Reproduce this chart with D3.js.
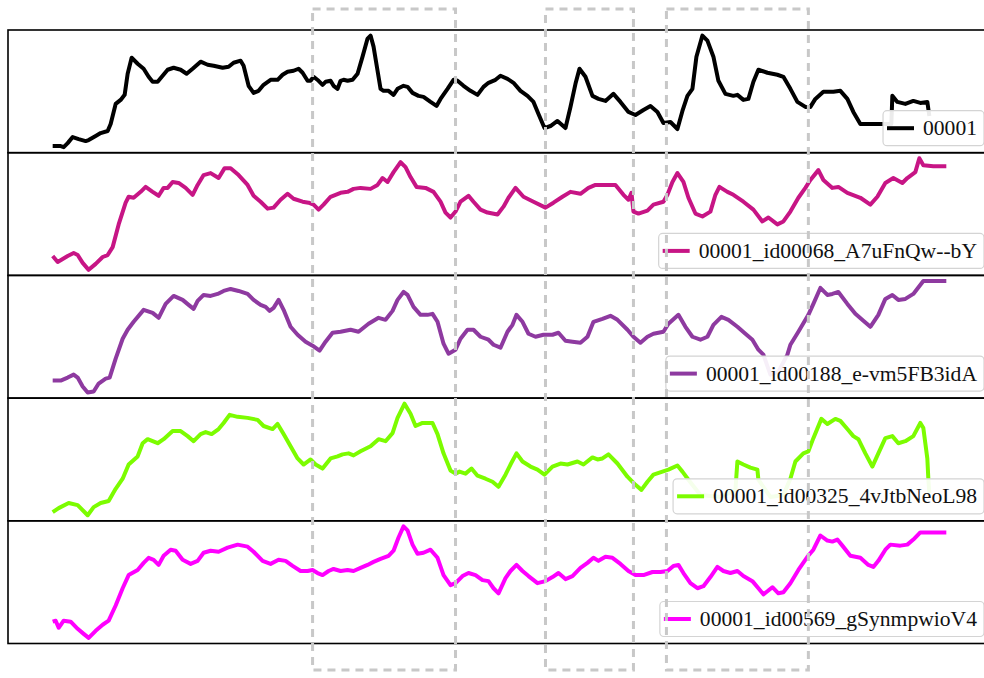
<!DOCTYPE html>
<html>
<head>
<meta charset="utf-8">
<script src="https://cdn.jsdelivr.net/npm/d3@7"></script>
<style>
  body { margin: 0; background: #fff; }
</style>
</head>
<body>
<script>
// pitch-like contours, [frame, value] pairs
var src00001 = [[0,6],[8,6],[11,5],[15,9],[20,15],[26,13],[33,11],[36,12],[43,16],[48,19],[55,21],[58,28],[63,48],[68,52],[72,57],[75,78],[79,94],[85,88],[91,83],[96,75],[100,70],[105,70],[110,76],[115,82],[121,84],[128,82],[134,78],[140,83],[148,90],[155,87],[161,86],[170,84],[176,85],[181,89],[188,91],[191,86],[196,66],[201,59],[206,61],[211,67],[218,72],[225,72],[230,77],[235,80],[241,81],[246,83],[250,79],[255,71],[258,71],[261,75],[266,71],[270,67],[273,70],[278,71],[281,66],[285,63],[288,71],[291,72],[295,71],[300,72],[305,78],[310,95],[315,113],[318,116],[321,105],[325,81],[328,63],[331,61],[336,61],[341,57],[345,63],[351,66],[355,65],[360,59],[366,56],[371,55],[378,50],[384,46],[388,53],[395,63],[401,72],[405,71],[411,66],[418,61],[425,57],[431,65],[436,69],[443,72],[448,76],[455,73],[461,69],[468,61],[475,56],[481,50],[486,38],[492,24],[498,26],[505,31],[513,24],[518,45],[523,68],[527,83],[533,75],[540,56],[546,53],[553,51],[561,58],[568,50],[576,40],[583,37],[591,42],[598,46],[605,40],[611,29],[618,30],[625,23],[630,41],[635,56],[640,63],[644,95],[650,116],[655,111],[661,95],[666,71],[673,58],[681,56],[685,57],[691,52],[696,53],[701,70],[706,82],[715,79],[725,77],[731,75],[738,63],[745,50],[753,45],[758,45],[763,53],[771,60],[781,60],[788,61],[795,53],[801,40],[808,28],[818,28],[839,28],[840,56],[845,50],[853,48],[861,51],[868,49],[875,50],[876,43],[877,36]];

var id00068 = [[0,18],[5,12],[10,15],[15,18],[21,21],[25,19],[30,11],[36,4],[43,10],[50,17],[55,19],[60,27],[66,50],[73,72],[76,78],[81,77],[88,83],[93,88],[100,83],[106,79],[111,87],[115,87],[120,93],[126,92],[133,87],[140,80],[145,90],[151,100],[158,102],[166,97],[172,107],[178,107],[186,100],[195,90],[201,79],[208,73],[215,66],[221,67],[228,75],[235,81],[241,76],[250,73],[256,72],[261,70],[266,65],[271,70],[278,78],[288,82],[295,83],[301,86],[308,87],[318,86],[325,90],[330,97],[335,93],[341,103],[348,113],[353,108],[358,98],[364,88],[373,87],[381,83],[388,73],[393,62],[398,57],[403,63],[408,73],[416,79],[421,73],[428,65],[435,62],[445,60],[451,68],[456,77],[463,87],[471,78],[481,73],[493,67],[501,72],[510,78],[518,83],[528,81],[536,87],[543,90],[555,90],[563,90],[571,80],[576,75],[579,82],[581,63],[586,61],[595,64],[601,70],[611,73],[615,80],[620,93],[625,102],[631,93],[636,77],[643,61],[650,58],[658,63],[663,80],[667,88],[675,83],[681,80],[691,73],[701,65],[710,53],[716,57],[725,50],[731,53],[738,63],[746,77],[753,87],[758,95],[766,105],[771,95],[780,87],[786,88],[795,82],[808,77],[818,70],[825,78],[833,92],[841,97],[850,92],[855,97],[863,103],[867,117],[871,110],[881,109],[894,109]];

var id00188 = [[0,17],[8,17],[15,20],[21,23],[25,20],[30,11],[35,5],[41,6],[46,14],[53,19],[57,20],[63,39],[70,59],[75,68],[81,76],[91,88],[100,85],[106,80],[113,94],[121,102],[130,98],[136,93],[141,89],[145,97],[151,103],[158,102],[165,104],[171,107],[178,109],[186,107],[195,104],[201,98],[208,93],[213,91],[217,87],[221,90],[226,98],[231,88],[238,71],[245,63],[253,56],[260,52],[267,47],[273,56],[280,65],[288,66],[298,68],[306,66],[316,74],[326,80],[333,78],[340,87],[345,98],[351,106],[355,103],[361,91],[368,83],[375,83],[380,84],[385,76],[391,54],[396,44],[403,48],[408,59],[415,68],[421,68],[428,61],[436,58],[441,53],[448,50],[455,66],[460,73],[464,83],[470,76],[476,64],[483,61],[491,63],[500,63],[506,65],[513,57],[520,56],[528,55],[535,61],[541,76],[550,79],[558,82],[565,78],[575,68],[581,61],[588,55],[595,61],[601,64],[611,66],[616,74],[626,83],[633,71],[640,61],[648,58],[655,61],[661,73],[669,81],[676,78],[685,71],[693,64],[700,58],[706,48],[711,43],[718,23],[726,26],[735,43],[738,53],[746,66],[756,83],[761,94],[768,110],[775,103],[780,104],[786,106],[795,94],[803,84],[811,77],[818,71],[826,83],[833,99],[840,103],[846,98],[853,99],[861,104],[871,117],[894,117]];

var id00325 = [[0,9],[6,13],[16,18],[25,16],[35,6],[41,14],[48,18],[56,20],[63,32],[70,42],[76,56],[85,64],[90,77],[95,81],[105,77],[111,81],[120,89],[128,89],[135,84],[141,79],[148,86],[153,88],[159,86],[166,91],[171,97],[177,105],[185,103],[195,102],[205,100],[211,94],[220,91],[225,96],[231,86],[238,74],[245,62],[251,56],[258,61],[263,56],[270,52],[278,62],[285,64],[290,66],[296,67],[301,65],[308,69],[318,74],[326,81],[333,79],[340,87],[345,102],[352,116],[358,106],[363,94],[370,97],[380,97],[385,86],[391,67],[398,50],[403,47],[407,49],[413,47],[419,52],[425,45],[433,42],[440,39],[446,34],[453,46],[458,56],[464,67],[470,59],[478,54],[485,51],[492,46],[500,54],[508,57],[515,56],[525,59],[531,56],[540,63],[545,61],[550,62],[556,66],[565,57],[575,44],[583,36],[589,31],[595,39],[601,46],[610,49],[616,51],[625,55],[630,49],[636,41],[648,26],[668,24],[683,31],[685,59],[691,56],[698,53],[705,51],[706,41],[718,24],[731,26],[738,42],[743,59],[751,67],[756,69],[761,82],[769,101],[775,96],[783,101],[788,99],[795,91],[801,84],[806,81],[813,67],[820,54],[826,67],[833,82],[840,84],[846,77],[853,79],[861,84],[868,97],[871,92],[875,62],[876,42],[877,28]];

var id00569 = [[0,22],[3,23],[6,16],[11,23],[18,22],[25,15],[31,10],[36,6],[43,13],[50,19],[56,23],[63,38],[70,55],[76,68],[85,73],[91,80],[96,85],[101,83],[106,78],[111,87],[118,93],[123,92],[130,83],[138,79],[145,82],[151,90],[158,92],[166,91],[175,95],[185,98],[195,96],[201,91],[210,82],[218,79],[226,83],[233,82],[240,77],[248,72],[255,72],[260,73],[265,70],[270,68],[276,72],[281,74],[288,72],[295,73],[301,72],[308,75],[315,78],[321,81],[328,84],[336,87],[341,92],[346,105],[351,116],[355,112],[360,98],[365,89],[371,90],[378,93],[385,85],[391,68],[398,58],[403,60],[410,67],[416,70],[423,68],[430,63],[436,62],[441,55],[446,50],[453,65],[458,72],[464,78],[470,72],[476,67],[485,60],[493,62],[500,66],[506,70],[513,64],[520,67],[528,75],[535,80],[541,85],[546,82],[553,86],[560,85],[568,79],[576,72],[583,68],[591,68],[600,71],[608,71],[615,72],[621,77],[626,78],[631,70],[638,60],[645,55],[651,57],[658,66],[665,76],[671,72],[678,70],[685,72],[691,67],[700,62],[706,55],[711,49],[715,52],[720,56],[726,50],[731,51],[738,60],[746,73],[755,86],[761,93],[768,107],[775,102],[780,101],[785,103],[790,97],[798,87],[808,85],[816,78],[821,76],[826,82],[833,93],[838,98],[848,97],[855,98],[861,103],[868,110],[894,110]];

var labels = ['00001', '00001_id00068_A7uFnQw--bY', '00001_id00188_e-vm5FB3idA',
              '00001_id00325_4vJtbNeoL98', '00001_id00569_gSynmpwioV4'];
var colors = ['#000000', '#c71585', '#8e3aa0', '#7cfc00', '#ff00ff'];
var allSeries = [src00001, id00068, id00188, id00325, id00569];

// highlighted frame spans (dashed boxes)
var spans = [[260, 403], [493, 581], [614, 756]];

var width = 984, height = 678;
var axLeft = 8, axRight = 991, axTop = 30, panelH = 122.7;
var serif = "'Liberation Serif', 'Times New Roman', 'DejaVu Serif', serif";

var svg = d3.select('body').append('svg')
    .attr('width', width)
    .attr('height', height);

// x shared, 5% margins like matplotlib autoscale
var allT = d3.merge(allSeries).map(function(d){ return d[0]; });
var tExt = d3.extent(allT), tPad = (tExt[1] - tExt[0]) * 0.05;
var x = d3.scaleLinear()
    .domain([tExt[0] - tPad, tExt[1] + tPad])
    .range([axLeft, axRight]);

allSeries.forEach(function(data, i){
    var y0 = axTop + i * panelH, y1 = y0 + panelH;
    var ext = d3.extent(data, function(d){ return d[1]; });
    var pad = (ext[1] - ext[0]) * 0.05;
    var y = d3.scaleLinear()
        .domain([ext[0] - pad, ext[1] + pad])
        .range([y1, y0]);

    var g = svg.append('g').attr('class', 'panel');

    var line = d3.line()
        .x(function(d){ return x(d[0]); })
        .y(function(d){ return y(d[1]); });

    g.append('path')
        .datum(data)
        .attr('d', line)
        .attr('fill', 'none')
        .attr('stroke', colors[i])
        .attr('stroke-width', 4)
        .attr('stroke-linejoin', 'round')
        .attr('stroke-linecap', 'butt');

    // axes frame
    g.append('rect')
        .attr('x', axLeft).attr('y', y0)
        .attr('width', axRight - axLeft).attr('height', panelH)
        .attr('fill', 'none')
        .attr('stroke', '#000')
        .attr('stroke-width', 1.6);

    // legend, lower right
    var leg = g.append('g');
    var box = leg.append('rect')
        .attr('rx', 4).attr('ry', 4)
        .attr('fill', '#fff').attr('fill-opacity', 0.92)
        .attr('stroke', '#d4d4d4').attr('stroke-width', 1.2);
    var txt = leg.append('text')
        .attr('font-family', serif)
        .attr('font-size', 21.6)
        .attr('fill', '#111')
        .text(labels[i]);
    var tw = txt.node().getComputedTextLength();
    var textEnd = 977, bh = 35, by = y1 - 7 - bh;
    var tx = textEnd - tw;
    txt.attr('x', tx).attr('y', by + bh / 2 + 7);
    leg.append('line')
        .attr('x1', tx - 36).attr('x2', tx - 9)
        .attr('y1', by + bh / 2).attr('y2', by + bh / 2)
        .attr('stroke', colors[i]).attr('stroke-width', 4);
    box.attr('x', tx - 40).attr('y', by)
        .attr('width', tw + 40 + 7).attr('height', bh);
});

// dashed highlight boxes over the whole figure
svg.selectAll('.span')
    .data(spans)
    .enter().append('rect').classed('span', true)
    .attr('x', function(d){ return x(d[0]); })
    .attr('y', 9)
    .attr('width', function(d){ return x(d[1]) - x(d[0]); })
    .attr('height', 661)
    .attr('fill', 'none')
    .attr('stroke', '#c8c8c8')
    .attr('stroke-width', 3)
    .attr('stroke-dasharray', '8,6');
</script>
</body>
</html>
